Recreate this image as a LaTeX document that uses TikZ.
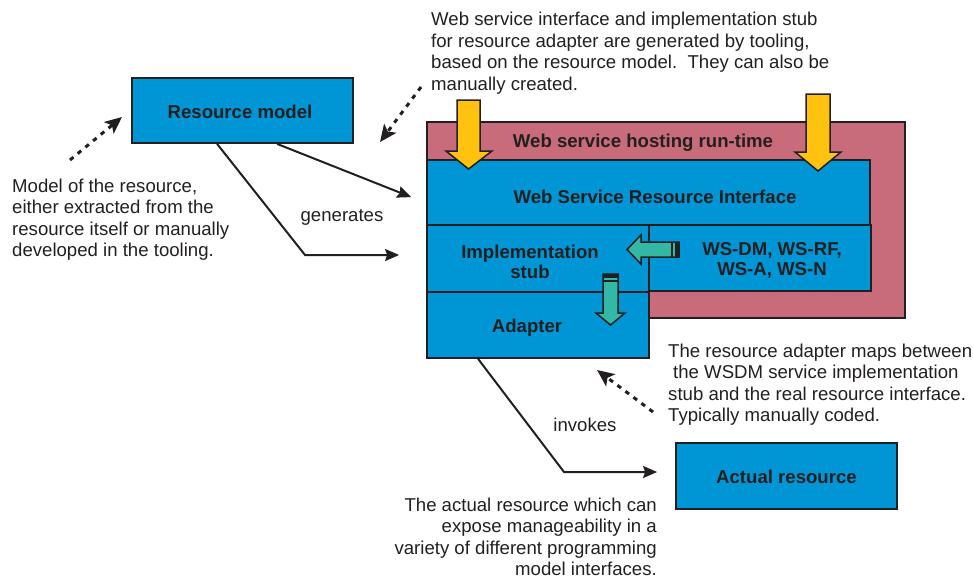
\documentclass[tikz,border=0pt]{standalone}
\usepackage{fontspec}
\setmainfont{Liberation Sans}
\usetikzlibrary{arrows.meta,calc}
\definecolor{boxblue}{RGB}{0,150,214}
\definecolor{hostpink}{RGB}{200,108,124}
\definecolor{arryellow}{RGB}{255,194,14}
\definecolor{arrteal}{RGB}{52,184,166}
\definecolor{inkdark}{RGB}{35,31,32}
\begin{document}
\begin{tikzpicture}[x=1pt,y=-1pt,
  every node/.style={font=\fontsize{18.6}{21.5}\selectfont, text=inkdark},
  box/.style={draw=inkdark, fill=boxblue, line width=1.8pt, inner sep=0pt},
  hostbox/.style={draw=inkdark, fill=hostpink, line width=1.8pt, inner sep=0pt},
  lbl/.style={font=\fontsize{18.6}{20}\selectfont\bfseries, text=inkdark, align=center, inner sep=0pt},
  notetext/.style={inner sep=0pt},
  conn/.style={draw=inkdark, line width=2pt, ->, >={Stealth[length=14pt,width=12pt,inset=2pt]}},
  dconn/.style={draw=inkdark, line width=3pt, dash pattern=on 4.5pt off 5.5pt, ->, >={Stealth[length=17pt,width=15pt,inset=4pt]}},
  yarrow/.style={draw=inkdark, fill=arryellow, line width=1.5pt, line join=miter},
  tarrow/.style={draw=inkdark, fill=arrteal, line width=1.5pt, line join=miter},
]
\useasboundingbox (0,0) rectangle (973,578);

% boxes
\node[box, minimum width=221pt, minimum height=65pt,
  label={[lbl, xshift=-2.5pt, yshift=-1.5pt]center:Resource model}] (rm) at (242.5,110.5) {};
\node[hostbox, minimum width=478pt, minimum height=196pt,
  label={[lbl, xshift=-23pt, yshift=77pt]center:Web service hosting run-time}] (host) at (666,220) {};
\node[box, minimum width=443pt, minimum height=65pt,
  label={[lbl, xshift=6.5pt, yshift=-4.5pt]center:Web Service Resource Interface}] (wsri) at (648.5,192.5) {};
\node[box, minimum width=222pt, minimum height=67pt,
  label={[lbl, xshift=-8pt, yshift=-3pt]center:Implementation\\stub}] (stub) at (538,258.5) {};
\node[box, minimum width=222pt, minimum height=66pt,
  label={[lbl, xshift=12pt, yshift=-2pt]center:WS-DM, WS-RF,\\WS-A, WS-N}] (wsdm) at (760,258) {};
\node[box, minimum width=222pt, minimum height=66pt,
  label={[lbl, xshift=-11pt, yshift=-3pt]center:Adapter}] (adapter) at (538,325) {};
\node[box, minimum width=221pt, minimum height=66pt,
  label={[lbl, yshift=-1pt]center:Actual resource}] (actual) at (786.5,476) {};

% yellow block arrows
\draw[yarrow] (457,100) -- (480,100) -- (480,151) -- (492,151) -- (468.5,169) -- (446,151) -- (457,151) -- cycle;
\draw[yarrow] (806,94) -- (830,94) -- (830,152) -- (841,152) -- (818,171) -- (795,152) -- (806,152) -- cycle;

% teal block arrows
\draw[tarrow] (679,242) -- (641,242) -- (641,235) -- (627,249.5) -- (641,264) -- (641,257) -- (679,257) -- cycle;
\fill[inkdark] (675,242) rectangle (679.5,257);
\draw[inkdark, line width=1.2pt] (672,242) -- (672,257);
\draw[tarrow] (603,274) -- (618,274) -- (618,313) -- (625,313) -- (610.5,325) -- (596,313) -- (603,313) -- cycle;
\fill[inkdark] (603,273.5) rectangle (618,278);
\draw[inkdark, line width=1.2pt] (603,281) -- (618,281);

% connectors
\coordinate (bendA) at (305,255);
\coordinate (bendB) at (564,472);
\draw[conn, shorten >=16pt] ($(rm.south west)+(146,0)$) -- ($(wsri.west)+(0,10.5)$);
\draw[conn] ($(rm.south west)+(86,0)$) -- (bendA) -- ($(stub.west)+(-27,-3.5)$);
\draw[conn] ($(adapter.south west)+(52,0)$) -- (bendB) -- ($(actual.west)+(-18,-4)$);

\node (gen) at (342,217) {generates};
\node (inv) at (585,425) {invokes};

% dashed annotation arrows
\coordinate (d1s) at (70,160);  \coordinate (d1e) at (122,117);
\coordinate (d2s) at (421,87);  \coordinate (d2e) at (380,142);
\coordinate (d3s) at (653,412); \coordinate (d3e) at (597,370);
\draw[dconn] (d1s) -- (d1e);
\draw[dconn] (d2s) -- (d2e);
\draw[dconn] (d3s) -- (d3e);

% notes
\node[notetext, anchor=north west, align=left] (topnote) at (431,12)
  {Web service interface and implementation stub\\for resource adapter are generated by tooling,\\based on the resource model.\ \ They can also be\\manually created.};
\node[notetext, anchor=north west, align=left] (leftnote) at (12,178.5)
  {Model of the resource,\\either extracted from the\\resource itself or manually\\developed in the tooling.};
\node[notetext, anchor=north west, align=left] (rightnote) at (668,343.5)
  {The resource adapter maps between\\\hspace*{5pt}the WSDM service implementation\\stub and the real resource interface.\\Typically manually coded.};
\node[notetext, anchor=north east, align=right] (botnote) at (657,497.5)
  {The actual resource which can\\expose manageability in a\\variety of different programming\\model interfaces.};
\end{tikzpicture}
\end{document}
